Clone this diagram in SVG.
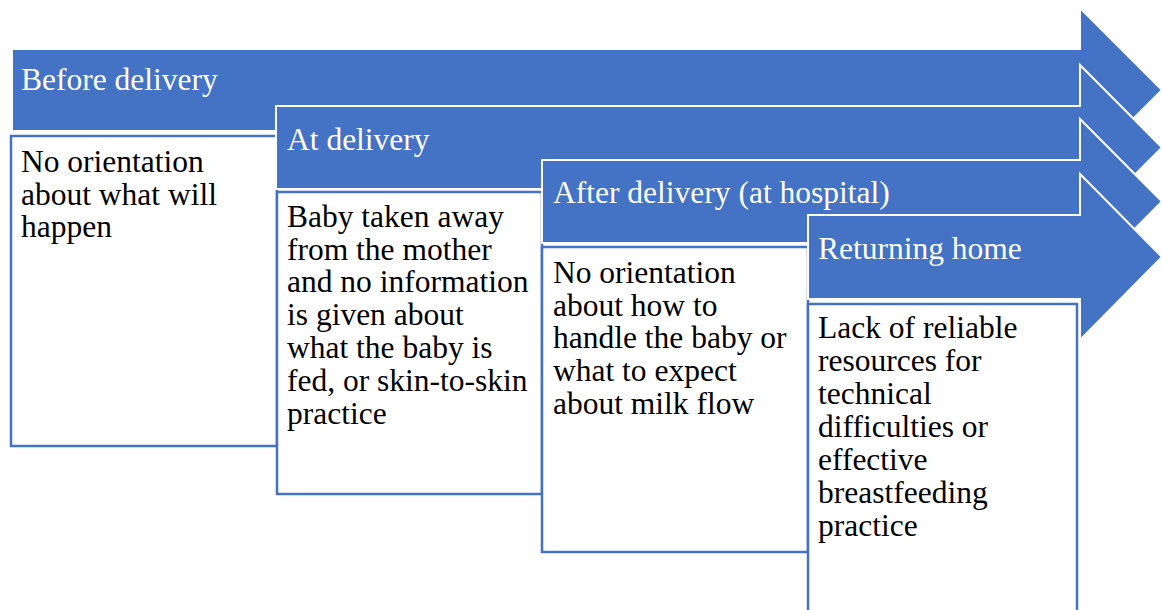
<svg xmlns="http://www.w3.org/2000/svg" width="1162" height="610" viewBox="0 0 1162 610">
<style>
.arrow{fill:#4472C4;stroke:#FFFFFF;stroke-width:2;stroke-linejoin:miter}
.box{fill:#FFFFFF;stroke:#4472C4;stroke-width:2.5}
.hd{font-family:"Liberation Serif","Times New Roman",serif;font-size:31.5px;fill:#FFFFFF}
.bd{font-family:"Liberation Serif","Times New Roman",serif;font-size:31.5px;fill:#000000}
</style>
<rect x="0" y="0" width="1162" height="610" fill="#FFFFFF"/>
<g id="stage1">
<path class="arrow" d="M12,49 H1080 V8 L1162,90 L1080,172 V131 H12 Z"/>
<text class="hd" x="21" y="90">Before delivery</text>
<rect class="box" x="11" y="136" width="266" height="310"/>
<text class="bd" x="21" y="172">No orientation</text>
<text class="bd" x="21" y="204.7">about what will</text>
<text class="bd" x="21" y="237.4">happen</text>
</g>
<g id="stage2">
<path class="arrow" d="M276,106 H1080 V65 L1162,147.5 L1080,230 V189 H276 Z"/>
<text class="hd" x="287" y="150">At delivery</text>
<rect class="box" x="277" y="192" width="265" height="302"/>
<text class="bd" x="287" y="226.7">Baby taken away</text>
<text class="bd" x="287" y="259.5">from the mother</text>
<text class="bd" x="287" y="292.3">and no information</text>
<text class="bd" x="287" y="325.1">is given about</text>
<text class="bd" x="287" y="357.9">what the baby is</text>
<text class="bd" x="287" y="390.7">fed, or skin-to-skin</text>
<text class="bd" x="287" y="423.5">practice</text>
</g>
<g id="stage3">
<path class="arrow" d="M542,160 H1080 V119 L1162,201.5 L1080,284 V243 H542 Z"/>
<text class="hd" x="553" y="202.5">After delivery (at hospital)</text>
<rect class="box" x="542" y="247" width="266" height="305"/>
<text class="bd" x="553" y="283">No orientation</text>
<text class="bd" x="553" y="315.7">about how to</text>
<text class="bd" x="553" y="348.4">handle the baby or</text>
<text class="bd" x="553" y="381.1">what to expect</text>
<text class="bd" x="553" y="413.8">about milk flow</text>
</g>
<g id="stage4">
<path class="arrow" d="M808,215 H1080 V174 L1162,257 L1080,340 V299 H808 Z"/>
<text class="hd" x="818" y="258.5">Returning home</text>
<rect class="box" x="808" y="304" width="269" height="320"/>
<text class="bd" x="818" y="338.3">Lack of reliable</text>
<text class="bd" x="818" y="371.3">resources for</text>
<text class="bd" x="818" y="404.3">technical</text>
<text class="bd" x="818" y="437.3">difficulties or</text>
<text class="bd" x="818" y="470.3">effective</text>
<text class="bd" x="818" y="503.3">breastfeeding</text>
<text class="bd" x="818" y="536.3">practice</text>
</g>
<g id="connectors"></g>
</svg>
